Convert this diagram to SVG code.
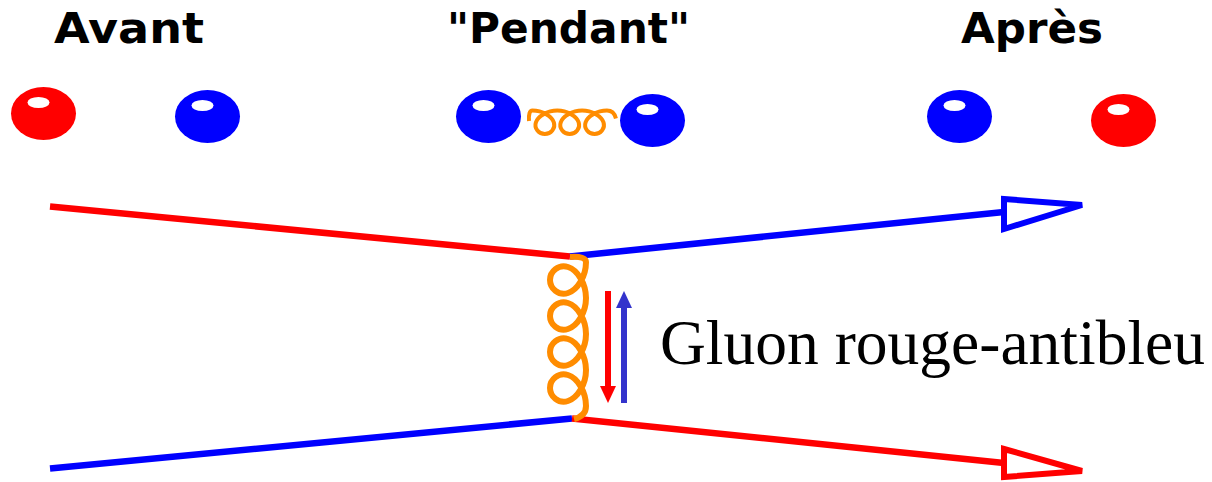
<svg xmlns="http://www.w3.org/2000/svg" xmlns:xlink="http://www.w3.org/1999/xlink" width="1212" height="482" viewBox="0 0 1212 482">
  <style>
    .title { font-family: "DejaVu Sans", "Liberation Sans", sans-serif; font-weight: bold; font-size: 42px; fill: #000; }
    .label { font-family: "Liberation Serif", "Times New Roman", serif; font-size: 63px; fill: #000; }
    .red { fill: #FF0000; }
    .blue { fill: #0000FF; }
    .shine { fill: #FFFFFF; }
    .line { fill: none; stroke-width: 6.5; stroke-linecap: butt; }
    .head { fill: none; stroke-width: 6; stroke-linejoin: miter; }
    .stroke-red { stroke: #FF0000; }
    .stroke-blue { stroke: #0000FF; }
    .gluon { fill: none; stroke: #FF8C00; stroke-linejoin: round; stroke-linecap: butt; }
  </style>
  <defs>
    <!-- highlight on a quark sphere, placed relative to the sphere centre -->
    <g id="sphere-shine">
      <ellipse class="shine" cx="-5" cy="-11" rx="11" ry="5.5"/>
    </g>
    <!-- gluon coil, four turns: spine on the right, loops on the left, runs downward -->
    <path id="coil" vector-effect="non-scaling-stroke"
          d="M0,0 Q16,-1 16,5
             c0,14.52 -8.58,28 -18,31 c-9.42,3 -18,-4.48 -18,-13 c0,-8.52 8.58,-16 18,-13 c9.42,3 18,16.48 18,31
             c0,14.52 -8.58,28 -18,31 c-9.42,3 -18,-4.48 -18,-13 c0,-8.52 8.58,-16 18,-13 c9.42,3 18,16.48 18,31
             c0,14.52 -8.58,28 -18,31 c-9.42,3 -18,-4.48 -18,-13 c0,-8.52 8.58,-16 18,-13 c9.42,3 18,16.48 18,31
             c0,14.52 -8.58,28 -18,31 c-9.42,3 -18,-4.48 -18,-13 c0,-8.52 8.58,-16 18,-13 c9.42,3 18,16.48 18,31
             Q16,159 4,162"/>
    <!-- same coil with three turns -->
    <path id="coil-short" vector-effect="non-scaling-stroke"
          d="M0,0 Q16,-1 16,5
             c0,14.52 -8.58,28 -18,31 c-9.42,3 -18,-4.48 -18,-13 c0,-8.52 8.58,-16 18,-13 c9.42,3 18,16.48 18,31
             c0,14.52 -8.58,28 -18,31 c-9.42,3 -18,-4.48 -18,-13 c0,-8.52 8.58,-16 18,-13 c9.42,3 18,16.48 18,31
             c0,14.52 -8.58,28 -18,31 c-9.42,3 -18,-4.48 -18,-13 c0,-8.52 8.58,-16 18,-13 c9.42,3 18,16.48 18,31
             Q16,123 4,126"/>
  </defs>

  <rect width="1212" height="482" fill="#FFFFFF"/>

  <!-- column titles -->
  <g id="title-avant"><text class="title" x="54" y="43" textLength="150" lengthAdjust="spacingAndGlyphs">Avant</text></g>
  <g id="title-pendant"><text class="title" x="447" y="43" textLength="243" lengthAdjust="spacingAndGlyphs">"Pendant"</text></g>
  <g id="title-apres"><text class="title" x="961" y="43" textLength="142" lengthAdjust="spacingAndGlyphs">Après</text></g>

  <!-- before: red and blue quarks -->
  <g id="avant-red">
    <ellipse class="red" cx="43.5" cy="113.5" rx="32.5" ry="26.5"/>
    <use href="#sphere-shine" transform="translate(43.5,113.5)"/>
  </g>
  <g id="avant-blue">
    <ellipse class="blue" cx="207.5" cy="116.5" rx="32.5" ry="26.5"/>
    <use href="#sphere-shine" transform="translate(207.5,116.5)"/>
  </g>

  <!-- during: two blue quarks exchanging a gluon -->
  <g id="pendant-blue-1">
    <ellipse class="blue" cx="488.5" cy="116.5" rx="32.5" ry="26.5"/>
    <use href="#sphere-shine" transform="translate(488.5,116.5)"/>
  </g>
  <g id="pendant-gluon">
    <use href="#coil-short" class="gluon" stroke-width="4" transform="translate(529,121) rotate(-90) scale(0.65,0.69)"/>
  </g>
  <g id="pendant-blue-2">
    <ellipse class="blue" cx="652.5" cy="120.5" rx="32.5" ry="26.5"/>
    <use href="#sphere-shine" transform="translate(652.5,120.5)"/>
  </g>

  <!-- after: blue and red quarks -->
  <g id="apres-blue">
    <ellipse class="blue" cx="959.5" cy="116.5" rx="32.5" ry="26.5"/>
    <use href="#sphere-shine" transform="translate(959.5,116.5)"/>
  </g>
  <g id="apres-red">
    <ellipse class="red" cx="1123.5" cy="120.5" rx="32.5" ry="26.5"/>
    <use href="#sphere-shine" transform="translate(1123.5,120.5)"/>
  </g>

  <!-- quark world lines -->
  <g id="connectors">
    <line class="line stroke-red" x1="50" y1="206.5" x2="570" y2="256.5"/>
    <line class="line stroke-blue" x1="570" y1="256.5" x2="1004" y2="212"/>
    <polygon class="head stroke-blue" points="1004,199 1082,205 1004,229"/>
    <line class="line stroke-blue" x1="50" y1="468.5" x2="572" y2="418.5"/>
    <line class="line stroke-red" x1="572" y1="418.5" x2="1004" y2="463"/>
    <polygon class="head stroke-red" points="1004,449 1082,471 1004,477"/>
  </g>

  <!-- exchanged gluon between the two world lines -->
  <g id="gluon-exchange">
    <use href="#coil" class="gluon" stroke-width="6" transform="translate(570,257)"/>
  </g>

  <!-- colour flow arrows -->
  <g id="colour-flow">
    <rect x="605" y="291" width="6" height="97" fill="#FF0000"/>
    <polygon points="600,386 616,386 608,403" fill="#FF0000"/>
    <rect x="621" y="306" width="6" height="97" fill="#3333CC"/>
    <polygon points="616,308 632,308 624,291" fill="#3333CC"/>
  </g>

  <g id="label">
    <text class="label" x="660" y="364" textLength="545" lengthAdjust="spacingAndGlyphs">Gluon rouge-antibleu</text>
  </g>
</svg>
